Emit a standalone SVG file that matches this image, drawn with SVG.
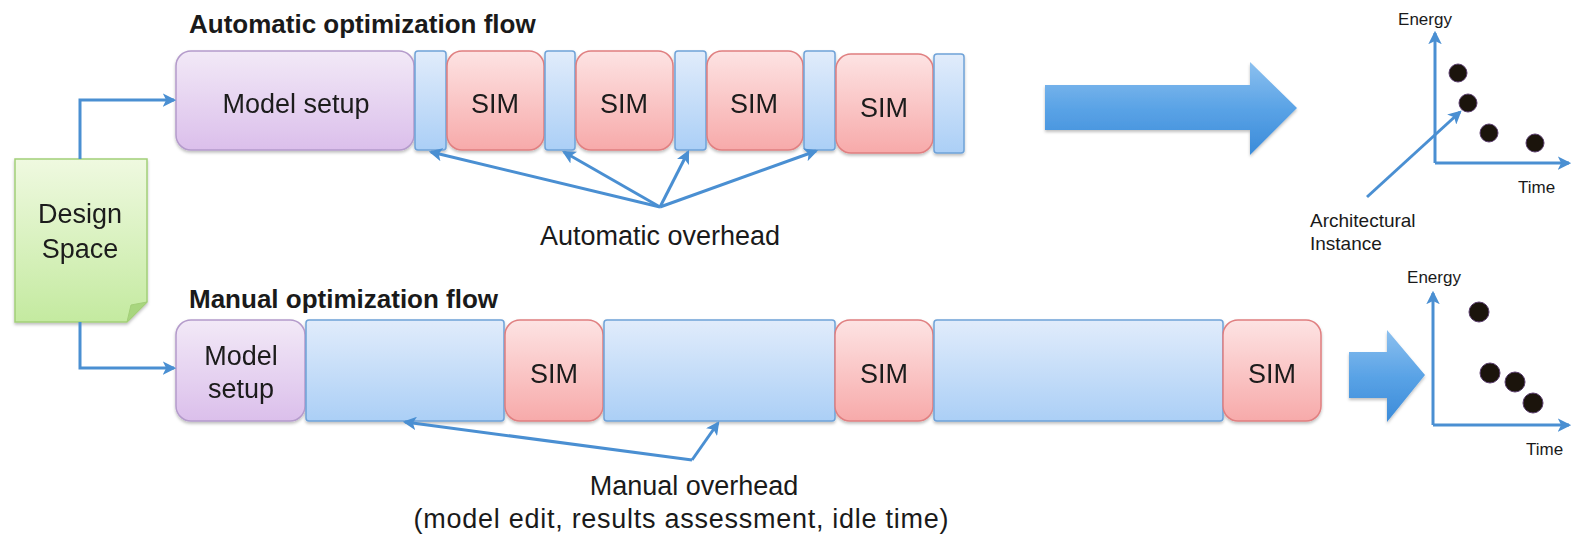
<svg xmlns="http://www.w3.org/2000/svg" width="1571" height="537" viewBox="0 0 1571 537">
<style>
text{font-family:"Liberation Sans",Arial,sans-serif;fill:#1a1a1a}
.lbl{font-size:27px;text-anchor:middle}
.ttl{font-size:26px;font-weight:bold}
.sm{font-size:17px}
.con{fill:none;stroke:#4a8fd2;stroke-width:3}
.purple{fill:url(#gP);stroke:#b49bcb;stroke-width:1.5}
.sim{fill:url(#gR);stroke:#e07f80;stroke-width:1.5}
.blue{fill:url(#gB);stroke:#6fa2d8;stroke-width:1.5}
.dot{fill:#1b140c;stroke:#5b3f6e;stroke-width:1}
.big{fill:url(#gA)}
</style>
<defs>
<linearGradient id="gP" x1="0" y1="0" x2="0" y2="1"><stop offset="0" stop-color="#f2e9f7"/><stop offset="1" stop-color="#dbbfeb"/></linearGradient>
<linearGradient id="gR" x1="0" y1="0" x2="0" y2="1"><stop offset="0" stop-color="#fde3e3"/><stop offset="1" stop-color="#f7aaaa"/></linearGradient>
<linearGradient id="gB" x1="0" y1="0" x2="0" y2="1"><stop offset="0" stop-color="#e1ecfb"/><stop offset="1" stop-color="#abcff6"/></linearGradient>
<linearGradient id="gG" x1="0" y1="0" x2="0" y2="1"><stop offset="0" stop-color="#eff9e0"/><stop offset="1" stop-color="#c4eaa0"/></linearGradient>
<linearGradient id="gA" x1="0" y1="0" x2="0" y2="1"><stop offset="0" stop-color="#8cc0ef"/><stop offset="0.5" stop-color="#5aa3e6"/><stop offset="1" stop-color="#3b8bd9"/></linearGradient>
<filter id="sh" x="-10%" y="-10%" width="120%" height="130%"><feDropShadow dx="0" dy="2" stdDeviation="1.5" flood-color="#000" flood-opacity="0.25"/></filter>
<marker id="ah" viewBox="0 0 12 12" refX="10" refY="6" markerWidth="4.5" markerHeight="4.5" orient="auto" markerUnits="strokeWidth">
<path d="M0,0 L12,6 L0,12 L3,6 Z" fill="#4a8fd2"/>
</marker>
</defs>

<text class="ttl" x="189" y="33">Automatic optimization flow</text>
<text class="ttl" x="189" y="308">Manual optimization flow</text>

<g id="design-space" filter="url(#sh)">
<path d="M15,159 H147 V302 L127,322 H15 Z" fill="url(#gG)" stroke="#a3cf78" stroke-width="1.5"/>
<path d="M147,302 L131,305 L127,322 Z" fill="#a8d67e" stroke="#a3cf78" stroke-width="1"/>
<text class="lbl" x="80" y="223">Design</text>
<text class="lbl" x="80" y="258">Space</text>
</g>

<g id="auto-flow" filter="url(#sh)">
<g id="auto-model"><rect class="purple" x="176" y="51" width="238" height="99" rx="15"/><text class="lbl" x="296" y="113">Model setup</text></g>
<rect id="auto-ov1" class="blue" x="415" y="51" width="31" height="99" rx="3"/>
<g id="auto-sim1"><rect class="sim" x="447" y="51" width="97" height="99" rx="15"/><text class="lbl" x="495" y="113">SIM</text></g>
<rect id="auto-ov2" class="blue" x="545" y="51" width="30" height="99" rx="3"/>
<g id="auto-sim2"><rect class="sim" x="576" y="51" width="97" height="99" rx="15"/><text class="lbl" x="624" y="113">SIM</text></g>
<rect id="auto-ov3" class="blue" x="675" y="51" width="31" height="99" rx="3"/>
<g id="auto-sim3"><rect class="sim" x="707" y="51" width="96" height="99" rx="15"/><text class="lbl" x="754" y="113">SIM</text></g>
<rect id="auto-ov4" class="blue" x="804" y="51" width="31" height="99" rx="3"/>
<g id="auto-sim4"><rect class="sim" x="836" y="54" width="97" height="99" rx="15"/><text class="lbl" x="884" y="117">SIM</text></g>
<rect id="auto-ov5" class="blue" x="934" y="54" width="30" height="99" rx="3"/>
</g>

<g id="manual-flow" filter="url(#sh)">
<g id="man-model"><rect class="purple" x="176" y="320" width="129" height="101" rx="15"/><text class="lbl" x="241" y="365">Model</text><text class="lbl" x="241" y="398">setup</text></g>
<rect id="man-ov1" class="blue" x="306" y="320" width="198" height="101" rx="3"/>
<g id="man-sim1"><rect class="sim" x="505" y="320" width="98" height="101" rx="15"/><text class="lbl" x="554" y="383">SIM</text></g>
<rect id="man-ov2" class="blue" x="604" y="320" width="231" height="101" rx="3"/>
<g id="man-sim2"><rect class="sim" x="835" y="320" width="98" height="101" rx="15"/><text class="lbl" x="884" y="383">SIM</text></g>
<rect id="man-ov3" class="blue" x="934" y="320" width="289" height="101" rx="3"/>
<g id="man-sim3"><rect class="sim" x="1223" y="320" width="98" height="101" rx="15"/><text class="lbl" x="1272" y="383">SIM</text></g>
</g>

<g id="labels">
<text class="lbl" x="660" y="245">Automatic overhead</text>
<text class="lbl" x="694" y="495">Manual overhead</text>
<text class="lbl" x="681" y="528" textLength="535">(model edit, results assessment, idle time)</text>
</g>

<g id="big-arrows" filter="url(#sh)">
<polygon class="big" points="1045,85 1250,85 1250,62 1297,108 1250,155 1250,130 1045,130"/>
<polygon class="big" points="1349,352 1387,352 1387,330 1425,375 1387,422 1387,398 1349,398"/>
</g>

<g id="chart-top">
<circle class="dot" cx="1458" cy="73" r="9"/>
<circle class="dot" cx="1468" cy="103" r="9"/>
<circle class="dot" cx="1489" cy="133" r="9"/>
<circle class="dot" cx="1535" cy="143" r="9"/>
<text class="sm" x="1425" y="25" text-anchor="middle">Energy</text>
<text class="sm" x="1518" y="193">Time</text>
<text class="sm" x="1310" y="227" style="font-size:19px">Architectural</text>
<text class="sm" x="1310" y="250" style="font-size:19px">Instance</text>
</g>

<g id="chart-bottom">
<circle class="dot" cx="1479" cy="312" r="10"/>
<circle class="dot" cx="1490" cy="373" r="10"/>
<circle class="dot" cx="1515" cy="382" r="10"/>
<circle class="dot" cx="1533" cy="403" r="10"/>
<text class="sm" x="1434" y="283" text-anchor="middle">Energy</text>
<text class="sm" x="1526" y="455">Time</text>
</g>

<g id="connectors">
<path class="con" d="M80,159 V100 H174" marker-end="url(#ah)"/>
<path class="con" d="M80,322 V368 H174" marker-end="url(#ah)"/>
<path class="con" d="M660,207 L431,152" marker-end="url(#ah)"/>
<path class="con" d="M660,207 L564,152" marker-end="url(#ah)"/>
<path class="con" d="M660,207 L688,152" marker-end="url(#ah)"/>
<path class="con" d="M660,207 L816,151" marker-end="url(#ah)"/>
<path class="con" d="M692,460 L405,422" marker-end="url(#ah)"/>
<path class="con" d="M692,460 L718,423" marker-end="url(#ah)"/>
<path class="con" d="M1367,197 L1460,112" marker-end="url(#ah)"/>
<path class="con" d="M1435,163 V33" marker-end="url(#ah)"/>
<path class="con" d="M1435,163 H1569" marker-end="url(#ah)"/>
<path class="con" d="M1433,425 V293" marker-end="url(#ah)"/>
<path class="con" d="M1433,425 H1569" marker-end="url(#ah)"/>
</g>
</svg>
